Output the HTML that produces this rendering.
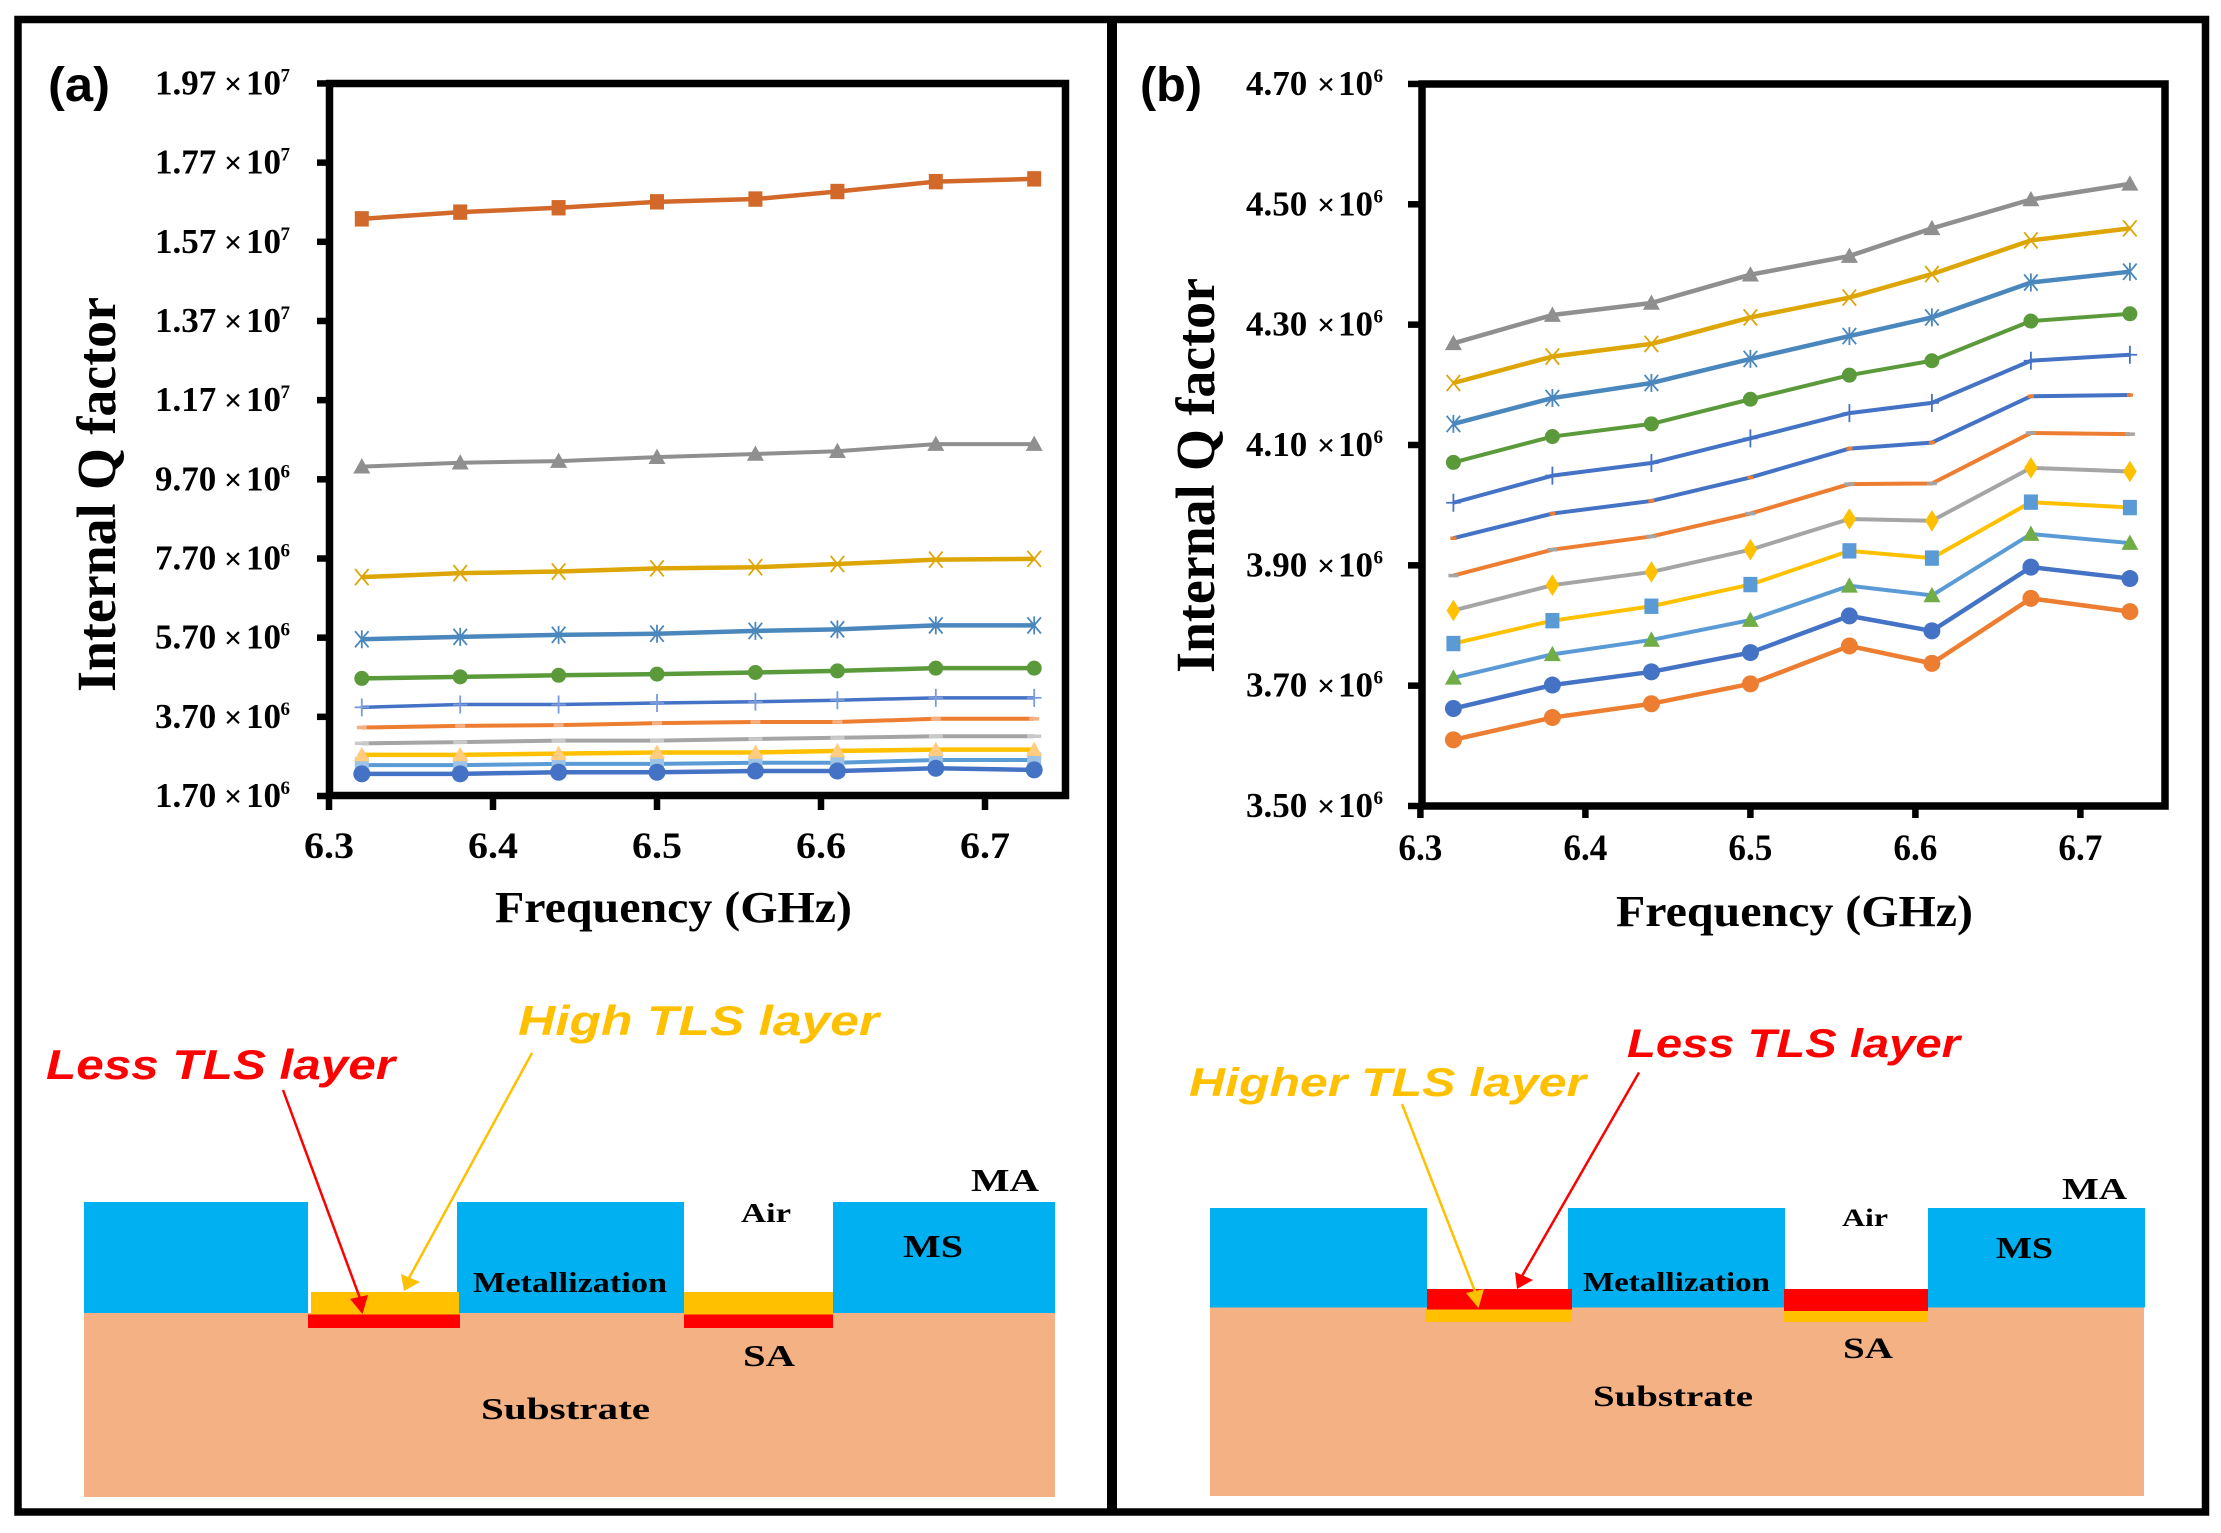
<!DOCTYPE html>
<html lang="en">
<head>
<meta charset="utf-8">
<title>Internal Q factor versus frequency</title>
<style>
  html, body { margin: 0; padding: 0; background: #fff; }
  svg { display: block; }
  .serif { font-family: "Liberation Serif", serif; font-weight: 700; fill: #000; }
  .callout { font-family: "Liberation Sans", sans-serif; font-weight: 700; font-style: italic; }
</style>
</head>
<body>
<svg id="figure" xmlns="http://www.w3.org/2000/svg" width="2221" height="1533" viewBox="0 0 2221 1533">
  <rect x="0" y="0" width="2221" height="1533" fill="#fff"/>
  <rect x="18" y="19.5" width="2187.5" height="1492.5" fill="none" stroke="#000" stroke-width="7.5"/>
  <rect x="1107" y="19" width="10" height="1494" fill="#000"/>

  <text x="48" y="101" font-family="Liberation Sans, sans-serif" font-weight="700" font-size="48" textLength="62" lengthAdjust="spacingAndGlyphs">(a)</text>
  <text x="1140" y="101" font-family="Liberation Sans, sans-serif" font-weight="700" font-size="48" textLength="62" lengthAdjust="spacingAndGlyphs">(b)</text>

  <g id="chart-a"></g>
  <g id="chart-b"></g>

  <text class="serif" transform="translate(115,692) rotate(-90)" font-size="55" textLength="395" lengthAdjust="spacingAndGlyphs">Internal Q factor</text>
  <text class="serif" x="495" y="922" font-size="44" textLength="357" lengthAdjust="spacingAndGlyphs">Frequency (GHz)</text>
  <text class="serif" transform="translate(1214,673) rotate(-90)" font-size="55" textLength="395" lengthAdjust="spacingAndGlyphs">Internal Q factor</text>
  <text class="serif" x="1616" y="926" font-size="44" textLength="357" lengthAdjust="spacingAndGlyphs">Frequency (GHz)</text>

  <g>
    <rect x="84" y="1313" width="971" height="184" fill="#F4B183"/>
    <rect x="84" y="1202" width="224" height="111" fill="#00B0F0"/>
    <rect x="457" y="1202" width="227" height="111" fill="#00B0F0"/>
    <rect x="833" y="1202" width="222" height="111" fill="#00B0F0"/>
    <rect x="311" y="1292" width="148" height="22.5" fill="#FFC000"/>
    <rect x="684" y="1292" width="149" height="22.5" fill="#FFC000"/>
    <rect x="308" y="1314.5" width="152" height="13.5" fill="#FF0000"/>
    <rect x="684" y="1314.5" width="149" height="13.5" fill="#FF0000"/>
    <text class="callout" x="46" y="1079" font-size="42" fill="#FF0000" textLength="349" lengthAdjust="spacingAndGlyphs">Less TLS layer</text>
    <text class="callout" x="518" y="1035" font-size="42" fill="#FFC000" textLength="361" lengthAdjust="spacingAndGlyphs">High TLS layer</text>
    <line x1="283" y1="1090" x2="361" y2="1301" stroke="#FF0000" stroke-width="2.5"/>
    <polygon points="362.5,1314 350,1299 368,1295" fill="#FF0000"/>
    <line x1="532" y1="1053" x2="409" y2="1278" stroke="#FFC000" stroke-width="2.5"/>
    <polygon points="404,1291 401,1274 420,1282" fill="#FFC000"/>
    <text class="serif" x="971" y="1191" font-size="32" textLength="68" lengthAdjust="spacingAndGlyphs">MA</text>
    <text class="serif" x="741" y="1222" font-size="27" textLength="50" lengthAdjust="spacingAndGlyphs">Air</text>
    <text class="serif" x="903" y="1257" font-size="32" textLength="60" lengthAdjust="spacingAndGlyphs">MS</text>
    <text class="serif" x="473" y="1292" font-size="28" textLength="194" lengthAdjust="spacingAndGlyphs">Metallization</text>
    <text class="serif" x="743" y="1366" font-size="31" textLength="52" lengthAdjust="spacingAndGlyphs">SA</text>
    <text class="serif" x="481" y="1419" font-size="31" textLength="169" lengthAdjust="spacingAndGlyphs">Substrate</text>
  </g>

  <g>
    <rect x="1210" y="1307.5" width="934" height="188.5" fill="#F4B183"/>
    <rect x="1210" y="1208" width="217" height="99.5" fill="#00B0F0"/>
    <rect x="1568" y="1208" width="217" height="99.5" fill="#00B0F0"/>
    <rect x="1928" y="1208" width="217" height="99.5" fill="#00B0F0"/>
    <rect x="1427" y="1289" width="145" height="20.5" fill="#FF0000"/>
    <rect x="1784" y="1289" width="144" height="22" fill="#FF0000"/>
    <rect x="1425" y="1309.5" width="146" height="12.5" fill="#FFC000"/>
    <rect x="1784" y="1311" width="144" height="11" fill="#FFC000"/>
    <text class="callout" x="1627" y="1057" font-size="40" fill="#FF0000" textLength="333" lengthAdjust="spacingAndGlyphs">Less TLS layer</text>
    <text class="callout" x="1189" y="1096" font-size="40" fill="#FFC000" textLength="397" lengthAdjust="spacingAndGlyphs">Higher TLS layer</text>
    <line x1="1402" y1="1104" x2="1476" y2="1294" stroke="#FFC000" stroke-width="2.5"/>
    <polygon points="1478.5,1308 1466,1293 1484,1289" fill="#FFC000"/>
    <line x1="1639" y1="1072.5" x2="1522" y2="1276" stroke="#FF0000" stroke-width="2.5"/>
    <polygon points="1517,1289 1515,1272 1533,1280" fill="#FF0000"/>
    <text class="serif" x="2062" y="1199" font-size="31" textLength="65" lengthAdjust="spacingAndGlyphs">MA</text>
    <text class="serif" x="1842" y="1226" font-size="25" textLength="46" lengthAdjust="spacingAndGlyphs">Air</text>
    <text class="serif" x="1996" y="1258" font-size="31" textLength="57" lengthAdjust="spacingAndGlyphs">MS</text>
    <text class="serif" x="1583" y="1291" font-size="27" textLength="187" lengthAdjust="spacingAndGlyphs">Metallization</text>
    <text class="serif" x="1843" y="1358" font-size="30" textLength="50" lengthAdjust="spacingAndGlyphs">SA</text>
    <text class="serif" x="1593" y="1406" font-size="30" textLength="160" lengthAdjust="spacingAndGlyphs">Substrate</text>
  </g>
</svg>

<script>
// ---- shared categories and tick labels ----
const frequenciesGHz = [6.32, 6.38, 6.44, 6.5, 6.56, 6.61, 6.67, 6.73];
const xTickValues = [6.3, 6.4, 6.5, 6.6, 6.7];

// ---- chart (a): y ticks and series, values in units of 10^6 ----
const yTicksA = [1.7, 3.7, 5.7, 7.7, 9.7, 11.7, 13.7, 15.7, 17.7, 19.7];
const a_orangeSquare = [16.28, 16.45, 16.56, 16.71, 16.78, 16.97, 17.22, 17.29];
const a_grayTriangle = [10.02, 10.12, 10.16, 10.26, 10.34, 10.41, 10.59, 10.59];
const a_goldCross = [7.23, 7.33, 7.37, 7.45, 7.48, 7.56, 7.67, 7.69];
const a_steelStar = [5.66, 5.72, 5.77, 5.80, 5.87, 5.91, 6.01, 6.01];
const a_greenCircle = [4.67, 4.71, 4.75, 4.78, 4.82, 4.86, 4.93, 4.93];
const a_bluePlus = [3.94, 4.01, 4.01, 4.05, 4.08, 4.12, 4.18, 4.18];
const a_orangeDash = [3.43, 3.47, 3.49, 3.54, 3.57, 3.57, 3.65, 3.65];
const a_grayDash = [3.03, 3.06, 3.10, 3.10, 3.14, 3.17, 3.21, 3.21];
const a_yellowTriangle = [2.74, 2.74, 2.77, 2.80, 2.80, 2.84, 2.87, 2.87];
const a_lightBlueSquare = [2.48, 2.48, 2.51, 2.51, 2.54, 2.54, 2.61, 2.61];
const a_blueCircle = [2.26, 2.26, 2.30, 2.30, 2.33, 2.33, 2.40, 2.36];

// ---- chart (b): y ticks and series, values in units of 10^6 ----
const yTicksB = [3.5, 3.7, 3.9, 4.1, 4.3, 4.5, 4.7];
const b_grayTriangle = [4.269, 4.316, 4.336, 4.383, 4.414, 4.46, 4.508, 4.534];
const b_goldCross = [4.203, 4.247, 4.268, 4.312, 4.345, 4.384, 4.44, 4.46];
const b_steelStar = [4.135, 4.178, 4.203, 4.243, 4.281, 4.312, 4.37, 4.388];
const b_greenCircle = [4.071, 4.114, 4.135, 4.176, 4.216, 4.24, 4.306, 4.318];
const b_bluePlus = [4.004, 4.049, 4.07, 4.111, 4.153, 4.17, 4.24, 4.25];
const b_blueDash = [3.945, 3.986, 4.007, 4.046, 4.094, 4.104, 4.181, 4.183];
const b_orangeDash = [3.883, 3.926, 3.948, 3.986, 4.035, 4.036, 4.12, 4.118];
const b_grayDiamond = [3.825, 3.867, 3.889, 3.926, 3.977, 3.974, 4.062, 4.056];
const b_yellowSquare = [3.77, 3.808, 3.832, 3.868, 3.924, 3.912, 4.005, 3.996];
const b_lightBlueTriangle = [3.713, 3.752, 3.776, 3.809, 3.866, 3.85, 3.952, 3.937];
const b_blueCircle = [3.662, 3.701, 3.723, 3.755, 3.816, 3.791, 3.897, 3.878];
const b_orangeCircle = [3.61, 3.647, 3.67, 3.703, 3.766, 3.737, 3.845, 3.823];

const SVG_NS = 'http://www.w3.org/2000/svg';

function node(tag, attrs, parent) {
  const n = document.createElementNS(SVG_NS, tag);
  for (const k in attrs) n.setAttribute(k, attrs[k]);
  parent.appendChild(n);
  return n;
}

function drawMarker(parent, kind, cx, cy, color, size) {
  const s = size;
  let m;
  if (kind === 'square') {
    m = node('rect', { x: cx - s, y: cy - s * 1.1, width: 2 * s, height: 2.2 * s, fill: color }, parent);
  } else if (kind === 'circle') {
    m = node('circle', { cx: cx, cy: cy, r: s, fill: color }, parent);
  } else if (kind === 'triangle') {
    m = node('polygon', { points: [cx, cy - s, cx + s, cy + s * 0.8, cx - s, cy + s * 0.8].join(' '), fill: color }, parent);
  } else if (kind === 'diamond') {
    m = node('polygon', { points: [cx, cy - s * 1.35, cx + s * 0.85, cy, cx, cy + s * 1.35, cx - s * 0.85, cy].join(' '), fill: color }, parent);
  } else if (kind === 'dash') {
    m = node('rect', { x: cx - s, y: cy - 1.75, width: 2 * s, height: 3.5, fill: color }, parent);
  } else {
    let d = '';
    if (kind === 'plus' || kind === 'star') d += `M${cx} ${cy - s}V${cy + s}`;
    if (kind === 'plus') d += `M${cx - s * 0.8} ${cy}H${cx + s * 0.8}`;
    if (kind === 'cross' || kind === 'star') d += `M${cx - s * 0.75} ${cy - s * 0.9}L${cx + s * 0.75} ${cy + s * 0.9}M${cx - s * 0.75} ${cy + s * 0.9}L${cx + s * 0.75} ${cy - s * 0.9}`;
    m = node('path', { d: d, fill: 'none', stroke: color, 'stroke-width': 1.8 }, parent);
  }
  return m;
}

function drawChart(cfg) {
  const root = document.getElementById(cfg.id);
  const xs = cfg.xScale, ys = cfg.yScale;

  // axis frame
  const frame = node('rect', { x: cfg.frame[0], y: cfg.frame[1], width: cfg.frame[2], height: cfg.frame[3], fill: 'none', stroke: '#000', 'stroke-width': 7.5 }, root);
  
  

  // y ticks and labels
  cfg.ticks.forEach(function (v) {
    const y = ys(v);
    const tick = node('line', { x1: cfg.yTickX, x2: cfg.frame[0], y1: y, y2: y, stroke: '#000', 'stroke-width': 6.5 }, root);
    
    
    const big = v >= 10;
    const label = node('text', { class: 'serif', y: y + 11, 'font-size': 35 }, root);
    
    
    const m = node('tspan', { x: cfg.labelX[0] }, label);
    m.textContent = (big ? v / 10 : v).toFixed(2);
    const times = node('tspan', { x: cfg.labelX[1] - 1, 'font-size': 32 }, label);
    times.textContent = '×';
    const ten = node('tspan', { x: cfg.labelX[2] }, label);
    ten.textContent = '10';
    const sup = node('tspan', { x: cfg.labelX[3], dy: -13, 'font-size': 19 }, label);
    sup.textContent = big ? '7' : '6';
  });

  // x ticks and labels
  xTickValues.forEach(function (f) {
    const x = xs(f);
    const tick = node('line', { x1: x, x2: x, y1: cfg.frame[1] + cfg.frame[3], y2: cfg.xTickEnd, stroke: '#000', 'stroke-width': 6.5 }, root);
    
    
    const label = node('text', { class: 'serif', x: x - cfg.xLabelW / 2, y: cfg.xLabelY, 'font-size': 37, textLength: cfg.xLabelW, lengthAdjust: 'spacingAndGlyphs' }, root);
    
    
    label.textContent = f.toFixed(1);
  });

  // series
  cfg.series.forEach(function (s) {
    const g = node('g', {}, root);
    
    
    const pts = s.values.map(function (v, i) { return xs(frequenciesGHz[i]) + ',' + ys(v); }).join(' ');
    const line = node('polyline', { points: pts, fill: 'none', stroke: s.color, 'stroke-width': s.width, 'stroke-linejoin': 'round' }, g);
    
    
    s.values.forEach(function (v, i) {
      const mk = drawMarker(g, s.marker, xs(frequenciesGHz[i]), ys(v), s.markerColor, s.size);
      
      
    });
  });
}

drawChart({
  id: 'chart-a',
  ticks: yTicksA,
  xScale: function (f) { return 329 + (f - 6.3) * 1640; },
  yScale: function (v) { return 796 - (v - 1.7) * 39.585; },
  frame: [329.5, 83.5, 736, 712],
  yTickX: 317,
  xTickEnd: 810,
  labelX: [155, 225, 246, 280.5],
  xLabelW: 50,
  xLabelY: 858,
  series: [
    { name: 'light-blue-square', values: a_lightBlueSquare, color: '#5B9BD5', width: 4, marker: 'square', markerColor: '#9DC3E6', size: 7 },
    { name: 'blue-circle', values: a_blueCircle, color: '#4472C4', width: 4.5, marker: 'circle', markerColor: '#4472C4', size: 8.5 },
    { name: 'yellow-triangle', values: a_yellowTriangle, color: '#FFC000', width: 4.5, marker: 'triangle', markerColor: '#FFCC80', size: 8 },
    { name: 'gray-dash', values: a_grayDash, color: '#A5A5A5', width: 4, marker: 'dash', markerColor: '#C9C9C9', size: 7 },
    { name: 'orange-dash', values: a_orangeDash, color: '#ED7D31', width: 4, marker: 'dash', markerColor: '#F4B183', size: 5 },
    { name: 'blue-plus', values: a_bluePlus, color: '#4472C4', width: 3.5, marker: 'plus', markerColor: '#7A9BDD', size: 9 },
    { name: 'green-circle', values: a_greenCircle, color: '#5B9A3B', width: 4.5, marker: 'circle', markerColor: '#5B9A3B', size: 7.5 },
    { name: 'steel-star', values: a_steelStar, color: '#4A87BC', width: 4.5, marker: 'star', markerColor: '#4A87BC', size: 9 },
    { name: 'gold-cross', values: a_goldCross, color: '#DDA606', width: 4.5, marker: 'cross', markerColor: '#DDA606', size: 9 },
    { name: 'gray-triangle', values: a_grayTriangle, color: '#8F8F8F', width: 4, marker: 'triangle', markerColor: '#8F8F8F', size: 8.5 },
    { name: 'orange-square', values: a_orangeSquare, color: '#D2692A', width: 4.5, marker: 'square', markerColor: '#D2692A', size: 7 }
  ]
});

drawChart({
  id: 'chart-b',
  ticks: yTicksB,
  xScale: function (f) { return 1420.4 + (f - 6.3) * 1650; },
  yScale: function (v) { return 806 - (v - 3.5) * 601.7; },
  frame: [1422, 84, 743, 722],
  yTickX: 1408,
  xTickEnd: 818,
  labelX: [1246, 1318, 1338, 1373.5],
  xLabelW: 44,
  xLabelY: 860,
  series: [
    { name: 'orange-circle', values: b_orangeCircle, color: '#ED7D31', width: 4.5, marker: 'circle', markerColor: '#ED7D31', size: 8.5 },
    { name: 'blue-circle', values: b_blueCircle, color: '#4472C4', width: 4.5, marker: 'circle', markerColor: '#4472C4', size: 8.5 },
    { name: 'light-blue-triangle', values: b_lightBlueTriangle, color: '#5B9BD5', width: 4, marker: 'triangle', markerColor: '#70AD47', size: 8.5 },
    { name: 'yellow-square', values: b_yellowSquare, color: '#FFC000', width: 4, marker: 'square', markerColor: '#5B9BD5', size: 7 },
    { name: 'gray-diamond', values: b_grayDiamond, color: '#A5A5A5', width: 4, marker: 'diamond', markerColor: '#FFC000', size: 8 },
    { name: 'orange-dash', values: b_orangeDash, color: '#ED7D31', width: 4, marker: 'dash', markerColor: '#A5A5A5', size: 5 },
    { name: 'blue-dash', values: b_blueDash, color: '#4472C4', width: 4, marker: 'dash', markerColor: '#ED7D31', size: 3 },
    { name: 'blue-plus', values: b_bluePlus, color: '#4472C4', width: 4, marker: 'plus', markerColor: '#4472C4', size: 9 },
    { name: 'green-circle', values: b_greenCircle, color: '#5B9A3B', width: 4, marker: 'circle', markerColor: '#5B9A3B', size: 7.5 },
    { name: 'steel-star', values: b_steelStar, color: '#4A87BC', width: 4.5, marker: 'star', markerColor: '#4A87BC', size: 9 },
    { name: 'gold-cross', values: b_goldCross, color: '#DDA606', width: 4.5, marker: 'cross', markerColor: '#DDA606', size: 9 },
    { name: 'gray-triangle', values: b_grayTriangle, color: '#8F8F8F', width: 4.5, marker: 'triangle', markerColor: '#8F8F8F', size: 8.5 }
  ]
});
</script>
</body>
</html>
